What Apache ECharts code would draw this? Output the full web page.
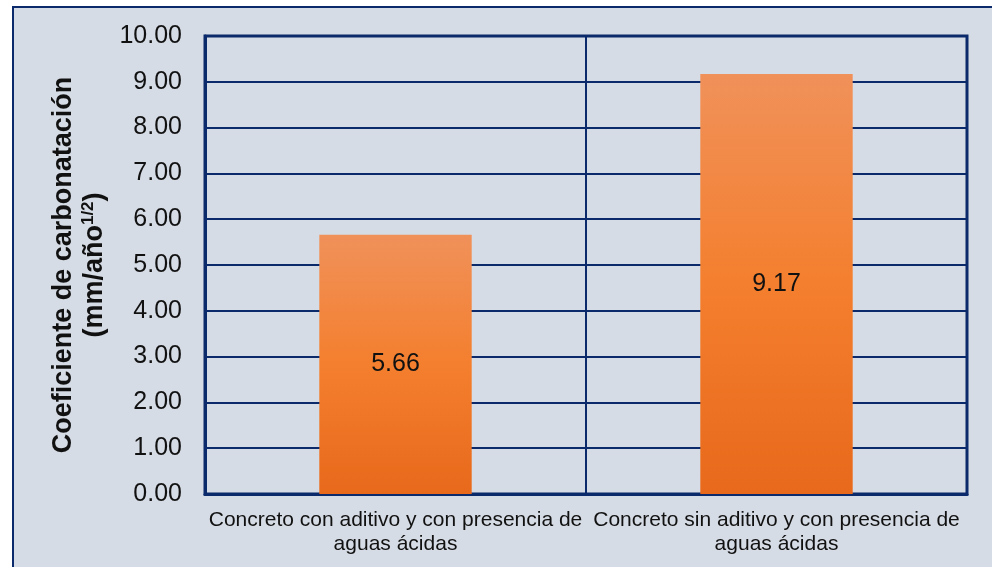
<!DOCTYPE html>
<html>
<head>
<meta charset="utf-8">
<script src="https://cdn.jsdelivr.net/npm/echarts@6/dist/echarts.min.js"></script>
<style>
html,body{margin:0;padding:0;background:#ffffff;}
#frame{position:absolute;left:12px;top:6px;width:980px;height:561px;background:#d6dce5;border-left:2px solid #0a2a6b;border-top:2px solid #0a2a6b;box-sizing:border-box;}
#chart{position:absolute;left:0;top:0;width:992px;height:567px;}
</style>
</head>
<body>
<div id="frame"></div>
<div id="chart"></div>
<script>
const categories = ["Concreto con aditivo y con presencia de\naguas ácidas", "Concreto sin aditivo y con presencia de\naguas ácidas"];
const values = [5.66, 9.17];
const yMin = 0, yMax = 10, yStep = 1;

const navy = '#0a2a6b';
const ff = 'Liberation Sans, Arial, sans-serif';
const chart = echarts.init(document.getElementById('chart'));
chart.setOption({
  backgroundColor: 'transparent',
  animation: false,
  grid: {left: 205, right: 25, top: 36, bottom: 73, show: true, borderColor: navy, borderWidth: 3, backgroundColor: 'transparent'},
  xAxis: {
    type: 'category',
    data: categories,
    axisLine: {show: true, lineStyle: {color: navy, width: 3}},
    axisTick: {show: false},
    splitLine: {show: true, lineStyle: {color: navy, width: 2}},
    axisLabel: {color: '#111', fontSize: 21, fontFamily: ff, margin: 14, lineHeight: 24, interval: 0}
  },
  yAxis: {
    type: 'value',
    min: yMin, max: yMax, interval: yStep,
    axisLine: {show: true, lineStyle: {color: navy, width: 3}},
    axisTick: {show: false},
    splitLine: {show: true, lineStyle: {color: navy, width: 2}},
    axisLabel: {color: '#111', fontSize: 25, fontFamily: ff, margin: 23, padding: [4,0,0,0], formatter: v => v.toFixed(2)},
    name: '{t|Coeficiente de carbonatación}\n{t|(mm/año}{s|1/2}{t|)}',
    nameLocation: 'middle',
    nameRotate: 90,
    nameGap: 92,
    nameTextStyle: {
      align: 'center',
      rich: {
        t: {fontSize: 27, fontWeight: 'bold', color: '#111', fontFamily: ff, lineHeight: 31},
        s: {fontSize: 17, fontWeight: 'bold', color: '#111', fontFamily: ff, verticalAlign: 'top', lineHeight: 31, padding: [0,0,12,0]}
      }
    }
  },
  series: [{
    type: 'bar',
    data: values,
    barWidth: '40%',
    itemStyle: {
      color: new echarts.graphic.LinearGradient(0, 0, 0, 1, [
        {offset: 0, color: '#f0915a'},
        {offset: 0.5, color: '#f47f2e'},
        {offset: 1, color: '#e8691b'}
      ])
    },
    label: {show: true, position: 'inside', color: '#111', fontSize: 25, fontFamily: ff, padding: [6,0,0,0], formatter: p => p.value.toFixed(2)}
  }]
});
</script>
</body>
</html>
